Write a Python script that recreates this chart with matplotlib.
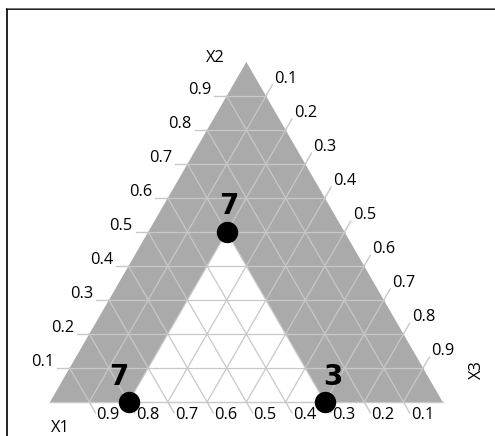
"""Ternary mixture-design plot: shaded infeasible region, design points with run counts."""
import numpy as np
import matplotlib
matplotlib.use("Agg")
import matplotlib.pyplot as plt
from matplotlib.lines import Line2D

FILL = "#aaaaaa"
GRID = "#c8c8c8"
INK = "#000000"

plt.rcParams["font.family"] = ["Open Sans", "DejaVu Sans"]

# design points (component proportions) and number of runs at each
x1 = [0.8, 0.3, 0.3]
x2 = [0.0, 0.5, 0.0]
x3 = [0.2, 0.2, 0.7]
runs = [7, 7, 3]

# lower bounds on the components that define the feasible region
x1_min = 0.3
x3_min = 0.2

ticks = [0.1, 0.2, 0.3, 0.4, 0.5, 0.6, 0.7, 0.8, 0.9]
tick_labels = ["0.1", "0.2", "0.3", "0.4", "0.5", "0.6", "0.7", "0.8", "0.9"]

H = np.sqrt(3) / 2
FS = 11.8


def tern(a, b, c):
    """(X1, X2, X3) -> cartesian; X1 bottom-left, X2 top, X3 bottom-right."""
    a, b, c = np.asarray(a, float), np.asarray(b, float), np.asarray(c, float)
    s = a + b + c
    return (c + b / 2) / s, (b * H) / s


W_PX, H_PX = 495, 436
SCALE = 392.7          # pixels per unit side
ORIGIN = (50, 402)     # pixel position of the X1 vertex

fig = plt.figure(figsize=(W_PX / 100, H_PX / 100), dpi=100)
ax = fig.add_axes([0, 0, 1, 1])
ax.set_xlim(-ORIGIN[0] / SCALE, (W_PX - ORIGIN[0]) / SCALE)
ax.set_ylim((ORIGIN[1] - H_PX) / SCALE, ORIGIN[1] / SCALE)
ax.axis("off")

px = 1 / SCALE  # one pixel in data units

# whole simplex in gray, feasible sub-simplex in white
tx, ty = tern([1, 0, 0], [0, 1, 0], [0, 0, 1])
ax.fill(tx, ty, color=FILL, lw=0, zorder=1)
fx, fy = tern([1 - x3_min, x1_min, x1_min],
              [0, 1 - x1_min - x3_min, 0],
              [x3_min, x3_min, 1 - x1_min])
ax.fill(fx, fy, color="white", lw=0, zorder=2)

# grid lines of constant X1, X2, X3
for v in ticks:
    gx, gy = tern([v, v], [1 - v, 0], [0, 1 - v])
    ax.plot(gx, gy, color=GRID, lw=0.9, zorder=3)
    gx, gy = tern([1 - v, 0], [v, v], [0, 1 - v])
    ax.plot(gx, gy, color=GRID, lw=0.9, zorder=3)
    gx, gy = tern([1 - v, 0], [0, 1 - v], [v, v])
    ax.plot(gx, gy, color=GRID, lw=0.9, zorder=3)
bx, by = tern([1, 0], [0, 0], [0, 1])
ax.plot(bx, by, color=GRID, lw=1.0, zorder=3)

tick_len = 12.5 * px
c60, s60 = 0.5, H

for v, lab in zip(ticks, tick_labels):
    # X2 on the left edge: horizontal ticks
    ex, ey = tern(1 - v, v, 0)
    ax.plot([ex, ex - tick_len], [ey, ey], color=GRID, lw=1.0, zorder=3, clip_on=False)
    ax.text(ex - tick_len - 3 * px, ey + 1.5 * px, lab, ha="right", va="baseline",
            fontsize=FS, color=INK)
    # X3 on the right edge: ticks running up and to the right
    ex, ey = tern(0, 1 - v, v)
    ax.plot([ex, ex + tick_len * c60], [ey, ey + tick_len * s60], color=GRID, lw=1.0,
            zorder=3, clip_on=False)
    ax.text(ex + tick_len * c60 + 2 * px, ey + tick_len * s60 + 2 * px, lab,
            ha="left", va="baseline", fontsize=FS, color=INK)
    # X1 on the bottom edge: ticks running down and to the right
    ex, ey = tern(v, 0, 1 - v)
    ax.plot([ex, ex + tick_len * c60], [ey, ey - tick_len * s60], color=GRID, lw=1.0,
            zorder=3, clip_on=False)
    ax.text(ex + tick_len * c60 + 1 * px, ey - tick_len * s60 - 2.5 * px, lab,
            ha="left", va="center", fontsize=FS, color=INK)

# component names at the vertices
vx, vy = tern(0, 1, 0)
ax.text(vx - 22 * px, vy, "X2", ha="right", va="baseline", fontsize=FS, color=INK)
vx, vy = tern(1, 0, 0)
ax.text(vx + 1 * px, vy - 18 * px, "X1", ha="left", va="top", fontsize=FS, color=INK)
vx, vy = tern(0, 0, 1)
ax.text(vx + 34 * px, vy + 32 * px, "X3", ha="center", va="center", rotation=90,
        fontsize=FS, color=INK)

# design points and their run counts
label_dx = [-10, 2, 8]
px_pts, py_pts = tern(x1, x2, x3)
ax.plot(px_pts, py_pts, "o", color=INK, ms=14.4, zorder=5, clip_on=False)
for xp, yp, n, dx in zip(px_pts, py_pts, runs, label_dx):
    ax.text(xp + dx * px, yp + 17.5 * px, str(n), ha="center", va="baseline",
            fontsize=20, fontweight="bold", family="DejaVu Sans", color=INK, zorder=6)

# plot frame (only its top-left corner falls inside the image)
fig.add_artist(Line2D([7 / W_PX, 7 / W_PX], [0, 1 - 9 / H_PX], color=INK, lw=1.2))
fig.add_artist(Line2D([7 / W_PX, 1], [1 - 9 / H_PX, 1 - 9 / H_PX], color=INK, lw=1.2))
fig.add_artist(Line2D([7 / W_PX, 1], [1 - 8 / H_PX, 1 - 8 / H_PX], color="#888888", lw=0.6))

fig.savefig("out.png", dpi=100, facecolor="white")
